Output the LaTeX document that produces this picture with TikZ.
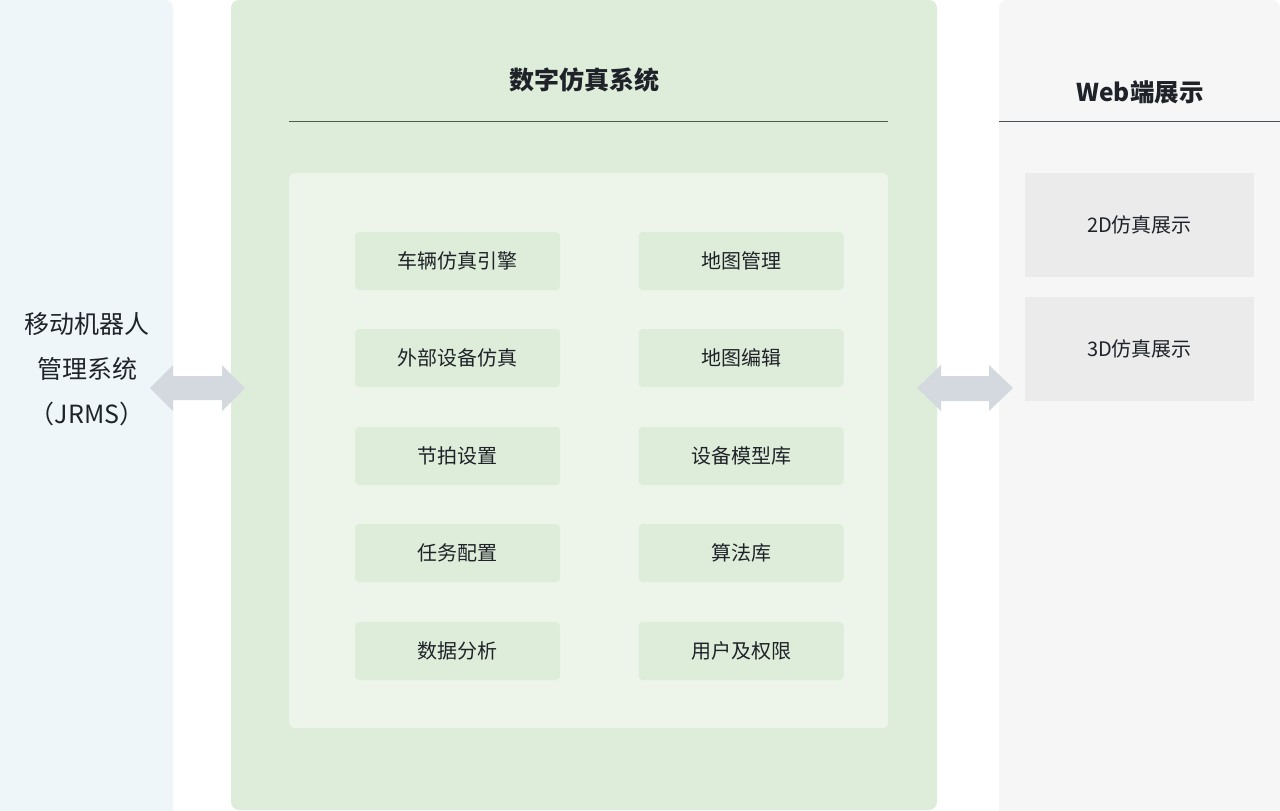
\documentclass[tikz,border=0pt]{standalone}
\usepackage{fontspec}
\setmainfont{Noto Sans CJK SC}
\begin{document}
\begin{tikzpicture}[x=1pt,y=-1pt,
  panel/.style={rounded corners=8pt},
  modbox/.style={fill=modgreen,rounded corners=4pt,minimum width=205pt,minimum height=58pt,inner sep=0pt,font=\fontsize{20}{23}\selectfont,text=txt},
  webbox/.style={fill=webgray,minimum width=229pt,minimum height=104pt,inner sep=0pt,font=\fontsize{20}{23}\selectfont,text=txt},
  dblarrow/.style={fill=arrowgray,draw=none}]
\definecolor{leftblue}{HTML}{EEF6FA}
\definecolor{greenpanel}{HTML}{DEEDD9}
\definecolor{innergreen}{HTML}{EDF5EA}
\definecolor{modgreen}{HTML}{DEEDD9}
\definecolor{rightgray}{HTML}{F6F6F6}
\definecolor{webgray}{HTML}{EBEBEB}
\definecolor{arrowgray}{HTML}{D3D9DE}
\definecolor{txt}{HTML}{1F2329}
\definecolor{linegreen}{HTML}{4A5E4A}
\definecolor{linegray}{HTML}{4B5559}
\useasboundingbox (0,0) rectangle (1280,811);
\fill[white] (0,0) rectangle (1280,811);
% panels
\fill[leftblue,panel] (-20,0) rectangle (173,819);
\fill[greenpanel,panel] (231,0) rectangle (937,810);
\fill[rightgray,panel] (999,0) rectangle (1280,819);
% left text
\node[align=center,text=txt,font=\fontsize{25}{45}\selectfont] (jrms) at (87,369) {移动机器人\\管理系统\\（JRMS）};
% title
\node[font=\fontsize{25}{28}\selectfont\bfseries,text=txt] (title) at (584.5,80) {数字仿真系统};
\coordinate (tl) at (289,121);
\coordinate (tr) at (888,121);
\draw[linegreen,line width=1pt] (tl) -- (tr);
\fill[innergreen,rounded corners=6pt] (289,173) rectangle (888,728);
% modules
\node[modbox] (m1) at (457.5,261) {车辆仿真引擎};
\node[modbox] (m2) at (457.5,358) {外部设备仿真};
\node[modbox] (m3) at (457.5,456) {节拍设置};
\node[modbox] (m4) at (457.5,553) {任务配置};
\node[modbox] (m5) at (457.5,651) {数据分析};
\node[modbox] (n1) at (741,261) {地图管理};
\node[modbox] (n2) at (741,358) {地图编辑};
\node[modbox] (n3) at (741,456) {设备模型库};
\node[modbox] (n4) at (741,553) {算法库};
\node[modbox] (n5) at (741,651) {用户及权限};
% right panel
\node[font=\fontsize{24.5}{28}\selectfont\bfseries,text=txt] (web) at (1140,92) {Web端展示};
\coordinate (wl) at (999,121);
\coordinate (wr) at (1280,121);
\draw[linegray,line width=1pt] (wl) -- (wr);
\node[webbox] (w1) at (1139.5,225) {2D仿真展示};
\node[webbox] (w2) at (1139.5,349) {3D仿真展示};
% arrows
\fill[dblarrow] (150,388) -- (173,365) -- (173,376) -- (222,376) -- (222,365) -- (245,388) -- (222,411) -- (222,400) -- (173,400) -- (173,411) -- cycle;
\fill[dblarrow] (917,388) -- (941,365) -- (941,376) -- (989,376) -- (989,365) -- (1013,388) -- (989,411) -- (989,401) -- (941,401) -- (941,411) -- cycle;
\end{tikzpicture}
\end{document}
